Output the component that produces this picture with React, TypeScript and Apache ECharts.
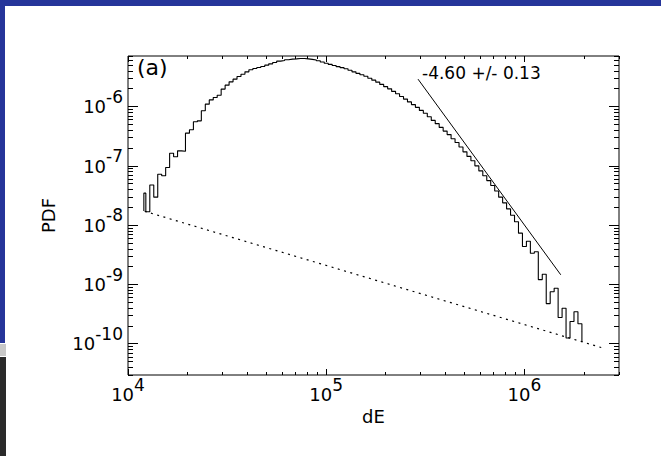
import React, { useEffect, useRef } from "react";
import * as echarts from "echarts";

// ---- axis ranges ----
const X_MIN = 1e4;
const X_MAX = 3e6;
const Y_MIN = 3.0e-11;
const Y_MAX = 7.2e-6;

// ---- histogram (log-spaced bins, 0.02 dex wide; first bin is a half bin) ----
const BIN_FIRST_LEFT_LOG = 4.08;
const BIN_START_LOG = 4.09;
const BIN_WIDTH_LOG = 0.02;
const HIST_START_LEVEL = 1.75e-8;
const HIST_END_LEVEL = 1.08e-10;
const PDF_VALUES = [
  3.5e-8, 1.7e-8, 4.8e-8, 3.0e-8, 7.3e-8, 6.9e-8, 9.5e-8, 1.65e-7, 1.44e-7, 1.81e-7,
  1.78e-7, 3.6e-7, 4.1e-7, 5.6e-7, 5.8e-7, 8.6e-7, 1.11e-6, 1.31e-6, 1.44e-6, 1.57e-6,
  1.99e-6, 2.32e-6, 2.64e-6, 2.93e-6, 3.24e-6, 3.55e-6, 3.89e-6, 4.21e-6, 4.43e-6, 4.6e-6,
  4.79e-6, 5.05e-6, 5.31e-6, 5.58e-6, 5.9e-6, 6.04e-6, 6.21e-6, 6.37e-6, 6.44e-6, 6.53e-6,
  6.53e-6, 6.44e-6, 6.32e-6, 6.15e-6, 5.97e-6, 5.69e-6, 5.42e-6, 5.21e-6, 4.97e-6, 4.76e-6,
  4.58e-6, 4.38e-6, 4.13e-6, 3.89e-6, 3.67e-6, 3.47e-6, 3.27e-6, 3.03e-6, 2.82e-6, 2.61e-6,
  2.39e-6, 2.19e-6, 2.01e-6, 1.82e-6, 1.66e-6, 1.49e-6, 1.35e-6, 1.21e-6, 1.09e-6, 9.8e-7,
  8.7e-7, 7.8e-7, 6.8e-7, 5.9e-7, 5.2e-7, 4.5e-7, 3.9e-7, 3.4e-7, 2.9e-7, 2.5e-7,
  2.1e-7, 1.74e-7, 1.46e-7, 1.23e-7, 1.01e-7, 8.3e-8, 6.9e-8, 5.7e-8, 4.7e-8, 3.8e-8,
  3.0e-8, 2.4e-8, 1.9e-8, 1.48e-8, 1.15e-8, 7.4e-9, 4.4e-9, 5.4e-9, 3.4e-9, 3.6e-9,
  1.22e-9, 1.5e-9, 4.8e-10, 7.6e-10, 8.7e-10, 2.8e-10, 4.0e-10, 1.26e-10, 2.4e-10, 3.5e-10,
  2.2e-10,
];

// ---- one-count level (dotted) and power-law fit (solid) ----
const DOTTED_X = [1.214e4, 2.44e6];
const DOTTED_Y = [1.73e-8, 8.73e-11];
const FIT_X = [2.905e5, 1.525e6];
const FIT_Y = [2.93e-6, 1.47e-9];

// ---- texts ----
const FIT_LABEL = "-4.60 +/- 0.13";
const PANEL_LABEL = "(a)";
const X_NAME = "dE";
const Y_NAME = "PDF";
const TICK_MULTIPLIERS = [1, 2, 3, 4, 5, 6, 7, 8, 9];

const FONT = "DejaVu Sans";

function logTicks(min: number, max: number) {
  const out: { value: number; major: boolean }[] = [];
  for (let e = Math.floor(Math.log10(min)); e <= Math.ceil(Math.log10(max)); e++) {
    for (const m of TICK_MULTIPLIERS) {
      const v = m * Math.pow(10, e);
      if (v >= min * 0.99999 && v <= max * 1.00001) out.push({ value: v, major: m === 1 });
    }
  }
  return out;
}

function binLeft(i: number) {
  return i === 0 ? BIN_FIRST_LEFT_LOG : BIN_START_LOG + BIN_WIDTH_LOG * (i - 1);
}
function binRight(i: number) {
  return BIN_START_LOG + BIN_WIDTH_LOG * i;
}

function histogramPoints() {
  const pts: number[][] = [];
  pts.push([Math.pow(10, binLeft(0)), HIST_START_LEVEL]);
  PDF_VALUES.forEach((v, i) => {
    pts.push([Math.pow(10, binLeft(i)), v]);
    pts.push([Math.pow(10, binRight(i)), v]);
  });
  pts.push([Math.pow(10, binRight(PDF_VALUES.length - 1)), HIST_END_LEVEL]);
  return pts;
}

function powLabel(v: number) {
  const e = Math.log10(v);
  const r = Math.round(e);
  if (Math.abs(e - r) > 1e-6) return "";
  return `{b|10}{s|${r}}`;
}

export default function App() {
  const ref = useRef<HTMLDivElement>(null);

  useEffect(() => {
    if (!ref.current) return;
    const chart = echarts.init(ref.current, null, { renderer: "svg" });
    const xTicks = logTicks(X_MIN, X_MAX);
    const yTicks = logTicks(Y_MIN, Y_MAX);

    const option: any = {
      animation: false,
      backgroundColor: "#ffffff",
      grid: {
        left: 128,
        top: 56,
        right: 42,
        bottom: 81,
        show: true,
        borderColor: "#000",
        borderWidth: 1,
        backgroundColor: "transparent",
      },
      xAxis: {
        type: "log",
        logBase: 10,
        min: X_MIN,
        max: X_MAX,
        axisLine: { show: false },
        axisTick: { show: false },
        splitLine: { show: false },
        minorTick: { show: false },
        name: X_NAME,
        nameLocation: "middle",
        nameGap: 32,
        nameMoveOverlap: false,
        nameTextStyle: { fontFamily: FONT, fontSize: 18, color: "#000" },
        axisLabel: {
          margin: 10,
          formatter: powLabel,
          rich: {
            b: { fontFamily: FONT, fontSize: 18, color: "#000", lineHeight: 18, padding: [9, 0, 9, 0] },
            s: { fontFamily: FONT, fontSize: 17, color: "#000", lineHeight: 18, padding: [0, 0, 18, 0] },
          },
        },
      },
      yAxis: {
        type: "log",
        logBase: 10,
        min: Y_MIN,
        max: Y_MAX,
        axisLine: { show: false },
        axisTick: { show: false },
        splitLine: { show: false },
        minorTick: { show: false },
        name: Y_NAME,
        nameLocation: "middle",
        nameGap: 71,
        nameRotate: 90,
        nameMoveOverlap: false,
        nameTextStyle: { fontFamily: FONT, fontSize: 18, color: "#000" },
        axisLabel: {
          margin: 5,
          formatter: powLabel,
          rich: {
            b: { fontFamily: FONT, fontSize: 18, color: "#000", lineHeight: 18, padding: [10, 0, 10, 0] },
            s: { fontFamily: FONT, fontSize: 17, color: "#000", lineHeight: 18, padding: [0, 0, 20, 0] },
          },
        },
      },
      series: [
        {
          type: "line",
          name: "PDF",
          data: histogramPoints(),
          showSymbol: false,
          symbol: "none",
          lineStyle: { color: "#000", width: 1.1 },
          z: 3,
        },
        {
          type: "line",
          name: "one count",
          data: DOTTED_X.map((x, i) => [x, DOTTED_Y[i]]),
          showSymbol: false,
          symbol: "none",
          lineStyle: { color: "#000", width: 1.2, type: [2, 4.5] },
          z: 2,
        },
        {
          type: "line",
          name: "fit",
          data: FIT_X.map((x, i) => [x, FIT_Y[i]]),
          showSymbol: false,
          symbol: "none",
          lineStyle: { color: "#000", width: 1 },
          z: 2,
        },
        {
          type: "custom",
          coordinateSystem: "cartesian2d",
          silent: true,
          clip: false,
          data: [[1e5, 1e-8]],
          z: 5,
          renderItem: (params: any, api: any) => {
            const cs = params.coordSys;
            const left = cs.x;
            const top = cs.y;
            const right = cs.x + cs.width;
            const bottom = cs.y + cs.height;
            const sharp = (v: number) => Math.round(v - 0.5) + 0.5;
            const ln = (x1: number, y1: number, x2: number, y2: number) => ({
              type: "line",
              shape: { x1, y1, x2, y2 },
              style: { stroke: "#000", lineWidth: 1 },
            });
            const children: any[] = [];
            for (const t of xTicks) {
              const px = sharp(api.coord([t.value, 1e-8])[0]);
              const len = t.major ? 6 : 3;
              children.push(ln(px, bottom, px, bottom - len));
              children.push(ln(px, top, px, top + len));
            }
            for (const t of yTicks) {
              const py = sharp(api.coord([1e5, t.value])[1]);
              const len = t.major ? 10 : 5;
              children.push(ln(left, py, left + len, py));
              children.push(ln(right, py, right - len, py));
            }
            return { type: "group", children };
          },
        },
      ],
      graphic: [
        { type: "rect", shape: { x: 0, y: 0, width: 661, height: 6 }, style: { fill: "#26359a" }, z: 10 },
        { type: "rect", shape: { x: 0, y: 0, width: 5, height: 343 }, style: { fill: "#26359a" }, z: 10 },
        { type: "rect", shape: { x: 0, y: 344, width: 6, height: 12 }, style: { fill: "#c8c8c8" }, z: 10 },
        { type: "rect", shape: { x: 0, y: 357, width: 6, height: 99 }, style: { fill: "#2a2a2a" }, z: 10 },
        {
          type: "text",
          x: 137,
          y: 67,
          z: 10,
          style: { text: PANEL_LABEL, fontFamily: FONT, fontSize: 22, fill: "#000", align: "left", verticalAlign: "middle" },
        },
        {
          type: "text",
          x: 422,
          y: 73,
          z: 10,
          style: { text: FIT_LABEL, fontFamily: FONT, fontSize: 17, fill: "#000", align: "left", verticalAlign: "middle" },
        },
      ],
    };

    chart.setOption(option);
    return () => chart.dispose();
  }, []);

  return (
    <div
      ref={ref}
      style={{ position: "fixed", left: 0, top: 0, width: 661, height: 456, background: "#fff" }}
    />
  );
}
